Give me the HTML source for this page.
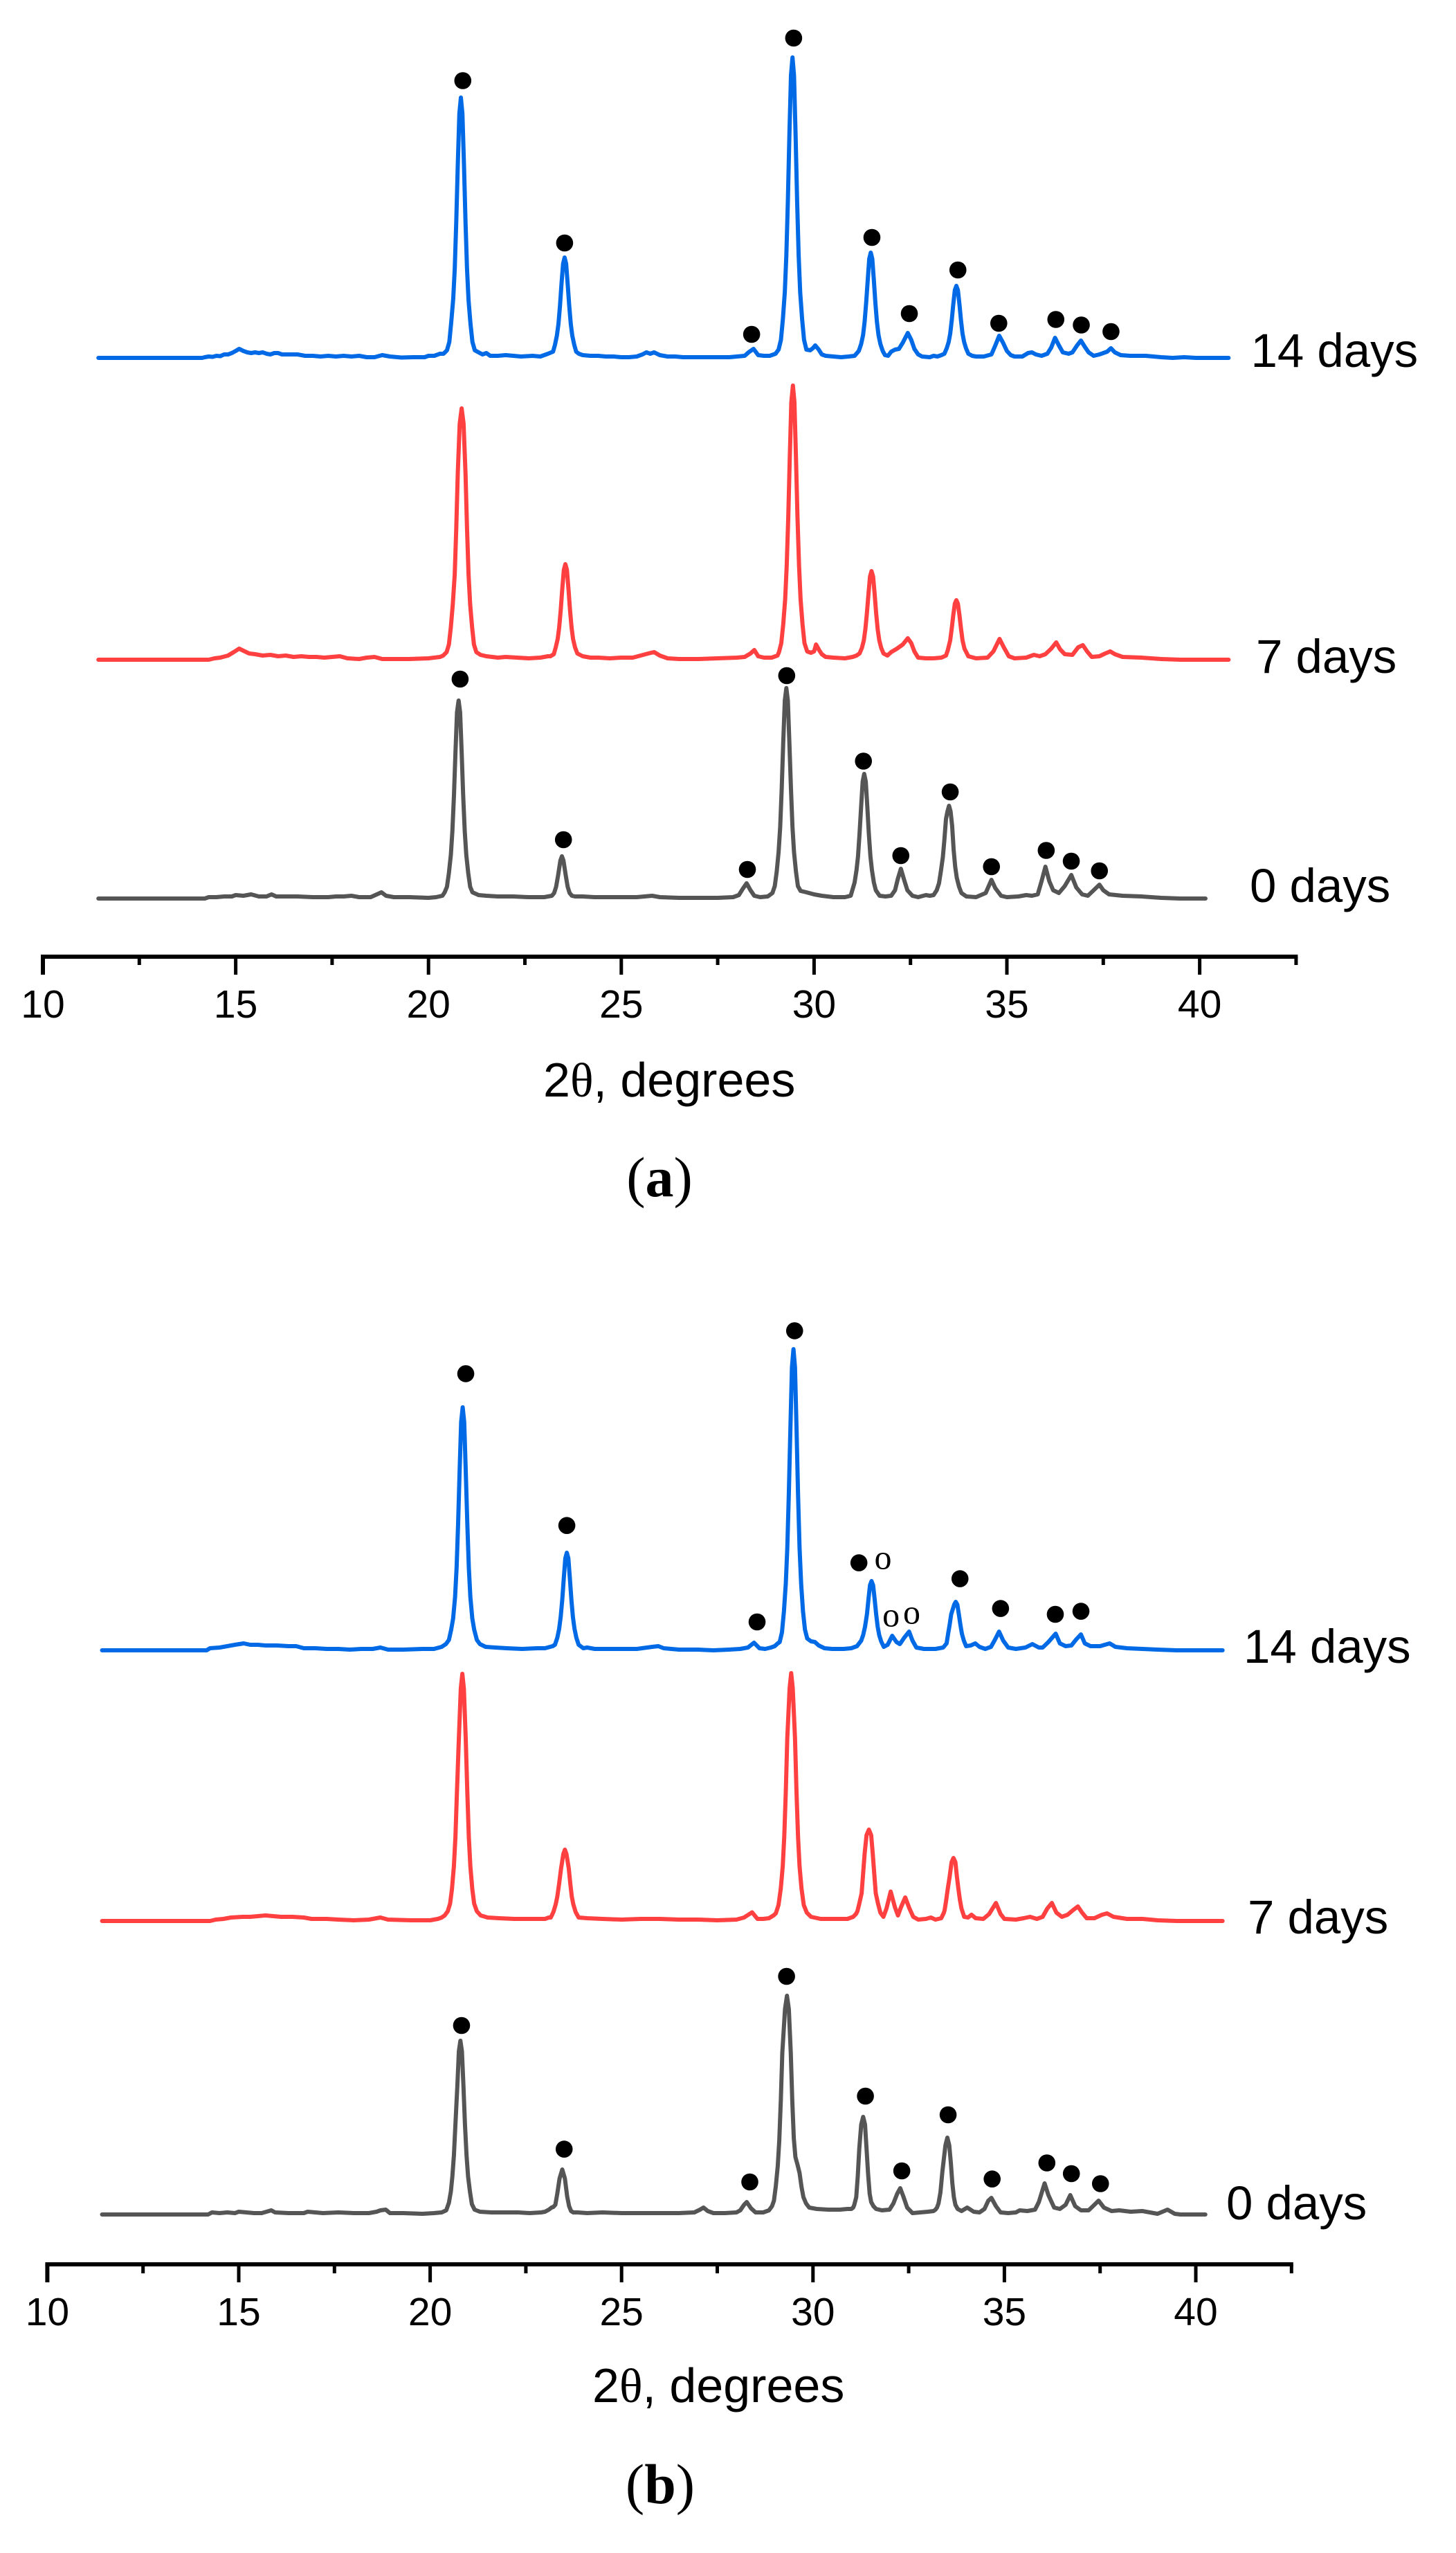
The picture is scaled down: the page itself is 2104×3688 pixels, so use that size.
<!DOCTYPE html>
<html lang="en">
<head>
<meta charset="utf-8">
<title>XRD patterns at 0, 7 and 14 days</title>
<style>
html,body{margin:0;padding:0;background:#fff}
svg{display:block}
text{font-family:"Liberation Sans",sans-serif;fill:#000}
</style>
</head>
<body>
<svg id="figure" xmlns="http://www.w3.org/2000/svg" width="2104" height="3688" viewBox="0 0 2104 3688">
<rect width="2104" height="3688" fill="#fff"/>
<g id="panelA"></g>
<g id="panelB"></g>
<text x="785" y="1584" font-size="70">2<tspan style="font-family:'Liberation Serif',serif">θ</tspan>, degrees</text>
<text x="856" y="3470" font-size="70">2<tspan style="font-family:'Liberation Serif',serif">θ</tspan>, degrees</text>
<text x="953" y="1728" font-size="82" text-anchor="middle" style="font-family:'Liberation Serif',serif">(<tspan font-weight="bold">a</tspan>)</text>
<text x="954" y="3616" font-size="82" text-anchor="middle" style="font-family:'Liberation Serif',serif">(<tspan font-weight="bold">b</tspan>)</text>
</svg>
<script>
const majorTicks = [10, 15, 20, 25, 30, 35, 40];
const minorTicks = [12.5, 17.5, 22.5, 27.5, 32.5, 37.5, 42.5];
const tickLabels = ["10", "15", "20", "25", "30", "35", "40"];

const a14Theta = [11.44,14.13,14.2,14.3,14.4,14.5,14.6,14.7,14.8,14.9,15.0,15.09,15.2,15.3,15.4,15.5,15.6,15.7,15.8,15.9,16.0,16.1,16.2,16.4,16.6,16.8,17.0,17.2,17.4,17.6,17.8,18.0,18.2,18.4,18.6,18.8,19.0,19.3,19.6,19.9,20.0,20.15,20.3,20.39,20.48,20.54,20.59,20.64,20.68,20.72,20.76,20.80,20.84,20.88,20.92,20.96,21.0,21.04,21.09,21.14,21.2,21.3,21.4,21.5,21.6,21.8,22,22.2,22.4,22.7,22.9,23,23.1,23.23,23.28,23.33,23.37,23.41,23.45,23.49,23.53,23.57,23.61,23.65,23.69,23.73,23.78,23.83,23.9,24.0,24.2,24.4,24.6,24.8,25.0,25.2,25.4,25.55,25.65,25.75,25.85,26.0,26.2,26.4,26.6,26.8,27,27.4,27.8,28,28.2,28.3,28.43,28.55,28.7,28.85,29.0,29.08,29.14,29.19,29.24,29.28,29.32,29.36,29.40,29.44,29.48,29.52,29.56,29.6,29.64,29.69,29.74,29.8,29.9,29.97,30.03,30.12,30.2,30.3,30.5,30.7,30.9,31.05,31.16,31.22,31.27,31.31,31.35,31.39,31.43,31.47,31.51,31.55,31.59,31.63,31.67,31.72,31.78,31.84,31.92,32.0,32.1,32.2,32.3,32.43,32.52,32.6,32.7,32.8,33,33.1,33.2,33.3,33.38,33.44,33.49,33.53,33.57,33.61,33.65,33.69,33.73,33.77,33.81,33.85,33.89,33.94,34,34.1,34.2,34.4,34.6,34.7,34.8,34.9,35,35.1,35.2,35.4,35.55,35.65,35.75,35.9,36.05,36.15,36.25,36.35,36.45,36.6,36.7,36.82,36.92,37.02,37.12,37.25,37.4,37.6,37.7,37.8,37.95,38.2,38.6,39,39.3,39.6,39.9,40.75];
const a14Intensity = [0,0,1,2,1.5,3,2.5,5,5,7,10,13,10,8,7,8,7,8,6,5,7,7,5,5,5,3,3,2,3,2,3,2,3,1,1,4,2,0.5,1,1,3,3,6,6,11,23,52,85,128,196,278,353,376,353,278,196,128,83,49,23,11,8,5,7,3,3,4,3,2,3,2,4,6,9,19,32,49,75,107,136,145,136,107,75,49,32,19,9,6,4,3,3,2,2,1,1,2,5,8,6,8,4,2,2,1,1,1,1,1,2,3,8,13,4,3,3,6,12,26,56,95,148,226,321,408,434,408,321,226,148,95,56,26,12,11,14,18,12,5,3,2,1,2,3,10,20,33,52,79,112,143,152,143,112,79,52,33,20,10,4,3,9,12,13,22,36,26,13,5,2,1,3,2,4,6,14,23,35,54,77,98,104,98,77,54,35,23,14,6,3,2,2,5,18,32,22,10,4,2,2,7,8,5,3,6,15,29,18,8,6,8,18,25,16,8,3,5,9,14,8,4,3,3,1,0,1,0,0];

const a7Theta = [11.44,14.3,14.45,14.6,14.8,14.95,15.09,15.2,15.35,15.5,15.7,15.9,16.1,16.3,16.5,16.7,16.9,17.1,17.3,17.5,17.7,17.9,18.2,18.4,18.6,18.8,19,19.5,20,20.3,20.38,20.47,20.53,20.58,20.63,20.68,20.72,20.76,20.81,20.86,20.91,20.96,21,21.04,21.08,21.13,21.18,21.24,21.35,21.5,21.8,22,22.3,22.6,22.9,23.1,23.16,23.25,23.3,23.35,23.39,23.43,23.47,23.51,23.55,23.59,23.63,23.67,23.71,23.75,23.8,23.86,24,24.2,24.4,24.7,25,25.3,25.5,25.7,25.85,26,26.2,26.5,27,27.5,28,28.2,28.35,28.45,28.55,28.7,28.9,29.05,29.09,29.15,29.2,29.25,29.29,29.33,29.37,29.41,29.45,29.49,29.53,29.57,29.61,29.65,29.7,29.75,29.82,29.92,30,30.05,30.13,30.2,30.3,30.5,30.8,31,31.1,31.18,31.24,31.29,31.33,31.37,31.41,31.45,31.49,31.53,31.57,31.61,31.65,31.69,31.74,31.8,31.9,32,32.15,32.3,32.43,32.52,32.6,32.7,32.9,33.1,33.3,33.42,33.47,33.53,33.57,33.61,33.65,33.69,33.73,33.77,33.81,33.85,33.9,34,34.2,34.5,34.65,34.81,34.92,35.05,35.2,35.5,35.7,35.85,36,36.15,36.28,36.38,36.5,36.7,36.85,36.97,37.08,37.2,37.4,37.55,37.68,37.8,38,38.5,39,39.5,40.75];
const a7Intensity = [0,0,2,3,6,11,16,13,9,8,6,7,5,6,4,5,4,4,3,4,5,2,1,3,4,1,1,1,2,4,6,11,22,47,80,123,189,269,341,363,341,269,189,123,80,47,22,11,7,5,3,4,3,2,3,5,5,8,18,30,47,72,102,130,138,130,102,72,47,30,18,9,5,3,3,2,3,3,6,9,11,6,2,1,1,2,3,4,9,14,5,3,3,6,11,24,51,87,135,206,293,372,396,372,293,206,135,87,51,24,12,10,12,22,14,8,4,3,2,4,6,9,17,28,44,67,95,120,128,120,95,67,44,28,17,9,6,11,16,22,31,24,12,3,2,2,3,6,14,28,45,64,81,86,81,64,45,28,16,5,2,3,12,30,18,5,2,3,7,5,8,16,25,15,8,7,18,21,12,4,5,9,12,8,4,3,1,0,0];

const a0Theta = [11.44,14.2,14.3,14.5,14.7,14.9,15.0,15.2,15.4,15.6,15.8,15.93,16.05,16.2,16.6,17,17.4,17.6,17.8,18,18.2,18.5,18.7,18.78,18.9,19.1,19.5,20,20.2,20.36,20.42,20.48,20.53,20.58,20.62,20.66,20.7,20.74,20.78,20.82,20.86,20.9,20.94,20.98,21.03,21.08,21.14,21.3,21.5,21.8,22.2,22.6,23,23.1,23.2,23.26,23.31,23.36,23.42,23.46,23.5,23.56,23.61,23.66,23.72,23.8,24,24.3,24.6,25,25.4,25.8,26,26.5,27,27.5,27.9,28.05,28.15,28.25,28.35,28.45,28.6,28.8,28.92,28.98,29.03,29.08,29.12,29.16,29.2,29.24,29.28,29.32,29.36,29.4,29.44,29.48,29.53,29.58,29.65,29.8,30,30.2,30.5,30.8,30.95,31.05,31.1,31.14,31.18,31.22,31.26,31.3,31.34,31.38,31.42,31.46,31.5,31.55,31.6,31.7,31.85,32,32.1,32.17,32.25,32.33,32.42,32.55,32.7,32.9,33,33.1,33.18,33.24,33.29,33.34,33.38,33.42,33.46,33.5,33.54,33.58,33.62,33.66,33.7,33.76,33.82,33.95,34.2,34.45,34.6,34.7,34.85,35,35.3,35.5,35.65,35.8,35.9,36,36.1,36.2,36.35,36.5,36.67,36.8,36.95,37.1,37.25,37.4,37.5,37.65,38,38.5,39,39.5,40.15];
const a0Intensity = [0,0,2,2,3,3,5,4,6,3,3,6,3,3,3,2,2,3,3,4,2,2,7,9,4,2,2,1,2,4,9,17,37,63,97,149,212,269,286,269,212,149,97,63,37,17,9,5,4,3,3,2,2,3,4,8,17,33,55,61,55,33,17,8,4,3,3,2,2,2,2,4,2,1,1,1,2,5,14,22,12,4,2,3,8,18,39,67,103,158,225,286,304,286,225,158,103,67,39,18,11,9,6,4,2,2,4,23,41,61,94,133,169,180,169,133,94,61,41,23,12,4,3,4,12,28,43,28,12,4,2,5,4,5,12,22,40,60,85,115,126,134,126,105,70,46,30,17,8,3,2,8,27,15,4,2,3,5,4,6,25,46,25,12,8,18,34,16,6,4,12,20,12,6,4,3,1,0,0];

const b14Theta = [11.43,14.16,14.25,14.5,14.7,14.9,15.13,15.3,15.5,15.7,16,16.3,16.5,16.7,17,17.3,17.6,17.9,18.2,18.5,18.7,18.9,19.3,19.8,20.1,20.3,20.41,20.49,20.55,20.6,20.65,20.69,20.73,20.77,20.81,20.85,20.89,20.93,20.97,21.01,21.05,21.1,21.15,21.22,21.3,21.45,21.7,22,22.4,22.8,23,23.2,23.26,23.32,23.37,23.41,23.45,23.49,23.53,23.57,23.61,23.65,23.69,23.73,23.77,23.82,23.88,24,24.1,24.3,24.6,25,25.4,25.8,25.96,26.1,26.5,27,27.4,27.8,28.1,28.3,28.46,28.6,28.75,28.9,29,29.08,29.13,29.19,29.24,29.29,29.33,29.37,29.41,29.45,29.49,29.53,29.57,29.61,29.65,29.69,29.74,29.79,29.85,29.95,30.05,30.15,30.3,30.5,30.8,31,31.15,31.26,31.31,31.36,31.41,31.45,31.49,31.53,31.57,31.61,31.65,31.69,31.73,31.78,31.85,31.95,32.07,32.18,32.27,32.38,32.51,32.6,32.7,32.9,33.2,33.4,33.49,33.53,33.57,33.61,33.69,33.73,33.77,33.81,33.85,33.89,33.94,34,34.12,34.24,34.35,34.5,34.65,34.75,34.86,34.97,35.1,35.3,35.55,35.73,35.9,36,36.15,36.34,36.45,36.6,36.75,36.88,37,37.1,37.25,37.5,37.75,37.9,38.2,38.6,39,39.5,40.7];
const b14Intensity = [0,0,3,4,6,8,10,8,8,7,7,6,6,3,3,2,2,1,2,2,4,1,1,2,2,5,9,15,30,46,77,119,183,260,330,351,330,260,183,119,77,46,30,15,9,5,4,3,2,3,3,6,8,18,31,48,73,104,133,141,133,104,73,48,31,18,8,3,4,2,2,2,2,5,6,3,1,1,0,1,2,4,11,3,2,4,6,10,12,26,56,96,148,226,322,409,435,409,322,226,148,96,56,30,17,13,12,7,3,2,2,3,6,14,22,34,52,74,94,100,94,74,52,34,22,13,5,8,21,12,9,18,27,14,4,2,2,4,10,24,37,52,66,70,66,52,37,24,14,6,7,10,5,2,5,15,27,14,4,2,4,9,4,4,12,24,10,6,7,16,23,10,6,6,10,5,3,2,1,0,0];

const b7Theta = [11.43,14.25,14.4,14.6,14.8,15.1,15.3,15.5,15.7,15.9,16.1,16.4,16.7,16.9,17.3,17.6,18,18.4,18.7,18.9,19.5,20,20.2,20.3,20.38,20.46,20.52,20.57,20.62,20.66,20.7,20.75,20.8,20.84,20.88,20.93,20.97,21.01,21.05,21.1,21.15,21.22,21.32,21.5,21.8,22.2,22.6,23,23.1,23.15,23.22,23.28,23.32,23.37,23.42,23.48,23.52,23.56,23.62,23.66,23.7,23.74,23.8,23.88,24.1,24.5,25,25.5,26,26.5,27,27.5,28,28.2,28.41,28.55,28.7,28.85,28.97,29.03,29.1,29.16,29.21,29.25,29.29,29.33,29.39,29.43,29.47,29.53,29.57,29.61,29.65,29.7,29.76,29.84,29.95,30.2,30.5,30.9,31.05,31.12,31.16,31.21,31.27,31.31,31.35,31.4,31.46,31.52,31.56,31.6,31.64,31.7,31.76,31.84,31.92,32.03,32.14,32.22,32.3,32.41,32.52,32.62,32.75,32.95,33.08,33.2,33.35,33.42,33.44,33.48,33.52,33.57,33.62,33.67,33.72,33.76,33.8,33.84,33.88,33.95,34.05,34.14,34.25,34.45,34.6,34.78,34.9,35,35.3,35.5,35.67,35.85,36,36.12,36.24,36.36,36.5,36.65,36.8,36.92,37.03,37.15,37.35,37.55,37.68,37.85,38.2,38.6,39,39.5,40.7];
const b7Intensity = [0,0,2,3,5,6,6,7,8,7,6,6,5,3,3,2,1,2,5,2,1,1,3,5,8,14,25,46,79,121,186,264,336,357,336,264,186,121,79,46,25,14,8,5,4,3,3,3,5,5,13,24,35,54,76,97,103,97,76,54,35,24,13,5,4,3,2,3,3,2,2,1,2,5,12.5,3,3,4,8,11,23,47,79,122,186,265,337,358,337,265,186,122,79,47,23,12,6,3,3,3,6,10,14,25,40,69,98,124,132,124,98,69,40,25,12,6,18,42.5,20,8,20,34,18,6,2,3,5,2,4,12,16,30,46,64,85,91,85,64,46,30,18,6,5,9,4,3,10,26,10,3,2,4,6,3,6,18,26,12,6,9,16,21,12,4,4,9,11,6,3,3,1,0,0];

const b0Theta = [11.43,14.2,14.3,14.5,14.7,14.9,15,15.2,15.4,15.6,15.85,15.95,16.3,16.7,16.8,17.2,17.6,18,18.4,18.6,18.7,18.84,18.95,19.3,19.8,20.1,20.3,20.42,20.44,20.49,20.54,20.58,20.62,20.66,20.71,20.75,20.79,20.83,20.87,20.91,20.95,20.99,21.04,21.09,21.16,21.3,21.6,21.9,22.3,22.6,22.9,23,23.1,23.17,23.22,23.27,23.32,23.38,23.45,23.52,23.58,23.63,23.68,23.74,23.85,24.1,24.5,25,25.5,26,26.5,26.9,27.05,27.14,27.25,27.4,27.7,28,28.1,28.2,28.27,28.38,28.5,28.7,28.85,28.93,28.98,29.03,29.08,29.12,29.16,29.2,29.27,29.32,29.37,29.42,29.46,29.5,29.54,29.6,29.65,29.7,29.75,29.82,29.9,30.1,30.4,30.7,30.9,31,31.05,31.08,31.13,31.17,31.21,31.26,31.31,31.36,31.4,31.44,31.48,31.52,31.58,31.65,31.8,32,32.1,32.2,32.28,32.36,32.46,32.6,32.8,33,33.15,33.2,33.24,33.28,33.33,33.38,33.46,33.51,33.56,33.6,33.64,33.68,33.72,33.78,33.88,34.03,34.2,34.35,34.48,34.58,34.66,34.78,34.9,35.1,35.3,35.4,35.6,35.8,35.9,36.05,36.15,36.3,36.45,36.6,36.72,36.85,37,37.2,37.35,37.46,37.6,37.8,38,38.3,38.6,39,39.26,39.45,39.6,40.25];
const b0Intensity = [0,0,3,2,3,2,4,3,2,2,6,3,2,2,4,2,3,2,2,4,6,7,2,2,1,2,3,6,9,17,33,55,85,130,186,236,251,236,186,130,85,55,33,15,7,4,3,3,3,2,3,4,7,10,11,14,30,52,65,52,26,12,5,3,3,2,3,2,2,2,2,3,7,10,5,2,2,3,6,14,18,9,3,3,6,12,20,41,70,107,164,234,297,316,297,234,164,110,83,71,60,40,25,16,10,8,7,7,8,8,10,14,25,55,95,130,141,130,95,58,30,18,12,8,6,7,16,30,38,26,10,2,3,4,5,7,10,16,32,62,100,111,100,75,45,25,14,8,5,10,4,3,8,20,24,12,3,2,3,6,5,7,18,45,28,10,8,14,28,12,6,6,14,20,10,5,6,4,5,1,7,1,0,0];

const a14DotTheta = [20.89,23.53,28.38,29.47,31.5,32.47,33.73,34.79,36.27,36.93,37.7];
const a14DotHeight = [400.5,166,34,462,174,64,127,50,55.5,47.5,38];
const a0DotTheta = [20.82,23.5,28.27,29.29,31.28,32.25,33.53,34.6,36.02,36.67,37.4];
const a0DotHeight = [317,85,42,322,198.5,62,154,46,69.5,54,40];
const b14DotTheta = [20.93,23.57,28.54,29.52,31.2,33.84,34.9,36.33,37.0];
const b14DotHeight = [399.6,180.3,41,461.6,126.4,103.4,60.4,52,56.4];
const b0DotTheta = [20.82,23.5,28.35,29.31,31.37,32.32,33.53,34.68,36.11,36.75,37.51];
const b0DotHeight = [273,94.4,47,344,171,63,144,51.3,74.5,59,44.5];
const b14OpenTheta = [31.83,32.04,32.58];
const b14OpenHeight = [129,46,50];

const NS = 'http://www.w3.org/2000/svg';

function xAxisA(v) { return 62 + (v - 10) * 55.72; }
function xAxisB(v) { return 68.4 + (v - 10) * 55.32; }
function yAxis(base, v) { return base - v; }

function drawAxis(group, xf, axisY, majorEnd, minorEnd, labelY, panel) {
  const line = document.createElementNS(NS, 'line');
  line.setAttribute('x1', xf(10) - 3);
  line.setAttribute('x2', xf(42.5) + 2.5);
  line.setAttribute('y1', axisY);
  line.setAttribute('y2', axisY);
  line.setAttribute('stroke', '#000');
  line.setAttribute('stroke-width', 6);
  
  
  group.appendChild(line);
  majorTicks.forEach(function (t, i) {
    const tick = document.createElementNS(NS, 'line');
    tick.setAttribute('x1', xf(t));
    tick.setAttribute('x2', xf(t));
    tick.setAttribute('y1', axisY);
    tick.setAttribute('y2', majorEnd);
    tick.setAttribute('stroke', '#000');
    tick.setAttribute('stroke-width', i === 0 ? 6 : 5);
    
    
    group.appendChild(tick);
    const label = document.createElementNS(NS, 'text');
    label.setAttribute('x', xf(t));
    label.setAttribute('y', labelY);
    label.setAttribute('font-size', 57);
    label.setAttribute('text-anchor', 'middle');
    
    
    label.textContent = tickLabels[i];
    group.appendChild(label);
  });
  minorTicks.forEach(function (t) {
    const tick = document.createElementNS(NS, 'line');
    tick.setAttribute('x1', xf(t));
    tick.setAttribute('x2', xf(t));
    tick.setAttribute('y1', axisY);
    tick.setAttribute('y2', minorEnd);
    tick.setAttribute('stroke', '#000');
    tick.setAttribute('stroke-width', 5);
    
    
    group.appendChild(tick);
  });
}

function drawSeries(group, xf, base, thetas, values, color, name) {
  const n = Math.min(thetas.length, values.length);
  let d = '';
  for (let i = 0; i < n; i++) {
    d += (i ? 'L' : 'M') + xf(thetas[i]).toFixed(1) + ' ' + yAxis(base, values[i]).toFixed(1);
  }
  const path = document.createElementNS(NS, 'path');
  path.setAttribute('d', d);
  path.setAttribute('fill', 'none');
  path.setAttribute('stroke', color);
  path.setAttribute('stroke-width', 6);
  path.setAttribute('stroke-linejoin', 'round');
  path.setAttribute('stroke-linecap', 'round');
  
  
  group.appendChild(path);
}

function drawDots(group, xf, base, thetas, heights, name) {
  thetas.forEach(function (t, i) {
    const dot = document.createElementNS(NS, 'circle');
    dot.setAttribute('cx', xf(t));
    dot.setAttribute('cy', yAxis(base, heights[i]));
    dot.setAttribute('r', 12.3);
    dot.setAttribute('fill', '#000');
    
    
    group.appendChild(dot);
  });
}

function drawOpen(group, xf, base, thetas, heights, name) {
  thetas.forEach(function (t, i) {
    const mark = document.createElementNS(NS, 'text');
    mark.setAttribute('x', xf(t));
    mark.setAttribute('y', yAxis(base, heights[i]) + 11.5);
    mark.setAttribute('font-size', 50);
    mark.setAttribute('text-anchor', 'middle');
    mark.setAttribute('style', "font-family:'Liberation Serif',serif");
    
    
    mark.textContent = 'o';
    group.appendChild(mark);
  });
}

function drawLabel(group, x, y, txt, name) {
  const label = document.createElementNS(NS, 'text');
  label.setAttribute('x', x);
  label.setAttribute('y', y);
  label.setAttribute('font-size', 69);
  
  
  label.textContent = txt;
  group.appendChild(label);
}

const BLUE = '#006ae6';
const RED = '#ff4040';
const GRAY = '#555555';
const panelA = document.getElementById('panelA');
const panelB = document.getElementById('panelB');

drawAxis(panelA, xAxisA, 1382, 1408, 1394, 1470, 'a');
drawSeries(panelA, xAxisA, 517, a14Theta, a14Intensity, BLUE, 'series-14-days-a');
drawSeries(panelA, xAxisA, 953, a7Theta, a7Intensity, RED, 'series-7-days-a');
drawSeries(panelA, xAxisA, 1298, a0Theta, a0Intensity, GRAY, 'series-0-days-a');
drawDots(panelA, xAxisA, 517, a14DotTheta, a14DotHeight, 'peak-dot-14-days-a');
drawDots(panelA, xAxisA, 1298, a0DotTheta, a0DotHeight, 'peak-dot-0-days-a');
drawLabel(panelA, 1807.5, 530, '14 days', 'series-label-14-days-a');
drawLabel(panelA, 1815, 972, '7 days', 'series-label-7-days-a');
drawLabel(panelA, 1806, 1303, '0 days', 'series-label-0-days-a');

drawAxis(panelB, xAxisB, 3271, 3297, 3284, 3359, 'b');
drawSeries(panelB, xAxisB, 2384, b14Theta, b14Intensity, BLUE, 'series-14-days-b');
drawSeries(panelB, xAxisB, 2775, b7Theta, b7Intensity, RED, 'series-7-days-b');
drawSeries(panelB, xAxisB, 3199, b0Theta, b0Intensity, GRAY, 'series-0-days-b');
drawDots(panelB, xAxisB, 2384, b14DotTheta, b14DotHeight, 'peak-dot-14-days-b');
drawDots(panelB, xAxisB, 3199, b0DotTheta, b0DotHeight, 'peak-dot-0-days-b');
drawOpen(panelB, xAxisB, 2384, b14OpenTheta, b14OpenHeight, 'open-marker-14-days-b');
drawLabel(panelB, 1797, 2402, '14 days', 'series-label-14-days-b');
drawLabel(panelB, 1803, 2793, '7 days', 'series-label-7-days-b');
drawLabel(panelB, 1772, 3206, '0 days', 'series-label-0-days-b');
</script>
</body>
</html>
